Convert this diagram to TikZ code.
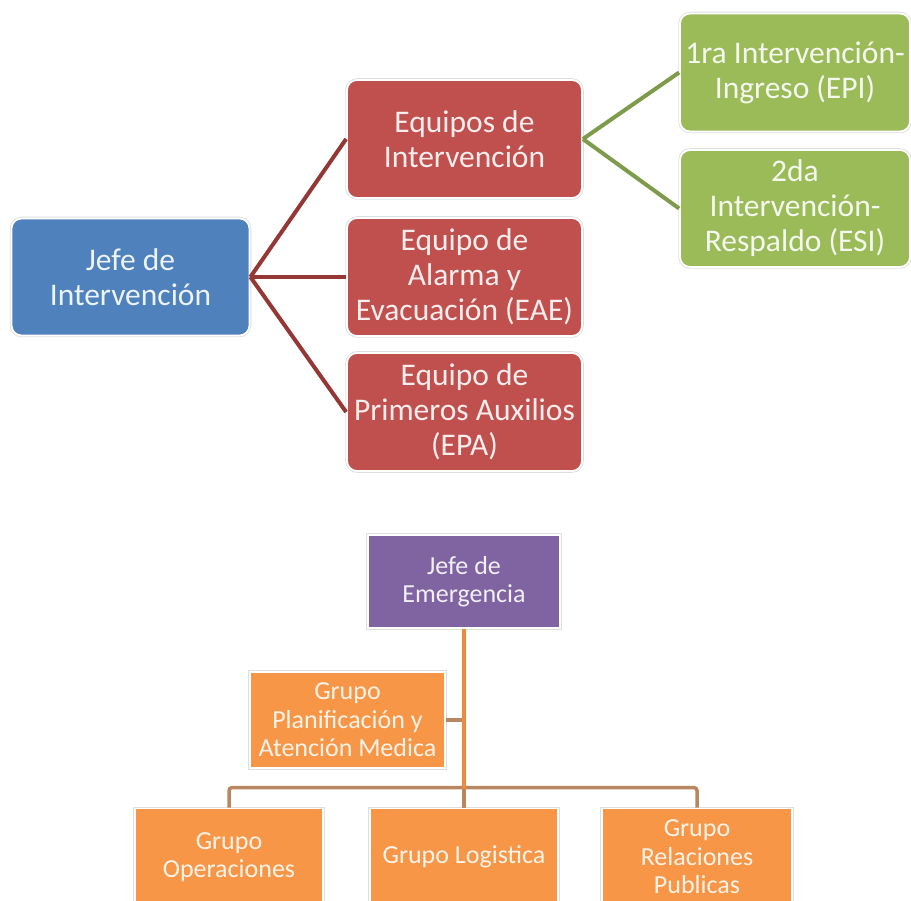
\documentclass[tikz,border=0pt]{standalone}
\usepackage{fontspec}
\setmainfont{Carlito}
\definecolor{jefeblue}{HTML}{4F81BD}
\definecolor{teamred}{HTML}{C0504D}
\definecolor{entrygreen}{HTML}{9BBB59}
\definecolor{emergpurple}{HTML}{8064A2}
\definecolor{grouporange}{HTML}{F79646}
\definecolor{redlink}{HTML}{953735}
\definecolor{greenlink}{HTML}{7E9B4B}
\definecolor{orangelink}{HTML}{EE8A3E}
\definecolor{buslink}{HTML}{B8875F}

\begin{document}
\begin{tikzpicture}[x=1pt, y=-1pt,
	card/.style={preaction={draw=black!13, line width=3.5pt}, draw=white, line width=1.8pt,
		text=white, align=center, inner sep=0pt},
	topcard/.style={card, rounded corners=10pt, font=\fontsize{31.5}{35}\selectfont},
	lowcard/.style={card, font=\fontsize{26}{28.5}\selectfont},
	redlink/.style={draw=redlink, line width=4pt},
	greenlink/.style={draw=greenlink, line width=4pt},
	buslink/.style={draw=buslink, line width=3.5pt, rounded corners=3pt}]
	\clip (0,0) rectangle (911,901);
	% brigada de intervencion
	\node[topcard, fill=jefeblue, text=white!90!jefeblue, minimum width=238pt, minimum height=117pt] (jefe) at (130.5, 277) {Jefe de\\Intervención};
	\node[topcard, fill=teamred, text=white!90!teamred, minimum width=235pt, minimum height=118pt] (equipos) at (464.5, 139) {Equipos de\\Intervención};
	\node[topcard, fill=teamred, text=white!90!teamred, minimum width=235pt, minimum height=118pt] (alarma) at (464.5, 277) {Equipo de\\Alarma y\\Evacuación (EAE)};
	\node[topcard, fill=teamred, text=white!90!teamred, minimum width=235pt, minimum height=118pt] (auxilios) at (464.5, 412) {Equipo de\\Primeros Auxilios\\(EPA)};
	\node[topcard, fill=entrygreen, text=white!90!entrygreen, minimum width=230pt, minimum height=118pt] (epi) at (795, 72.5) {1ra Intervención-\\Ingreso (EPI)};
	\node[topcard, fill=entrygreen, text=white!90!entrygreen, minimum width=230pt, minimum height=117pt] (esi) at (795, 208.5) {2da\\Intervención-\\Respaldo (ESI)};
	\draw[redlink] (jefe.east) -- (equipos.west);
	\draw[redlink] (jefe.east) -- (alarma.west);
	\draw[redlink] (jefe.east) -- (auxilios.west);
	\draw[greenlink] (equipos.east) -- (epi.west);
	\draw[greenlink] (equipos.east) -- (esi.west);

	% brigada de emergencia
	\node[lowcard, fill=emergpurple, text=white!90!emergpurple, minimum width=192pt, minimum height=93pt] (emerg) at (464, 581.5) {Jefe de\\Emergencia};
	\node[lowcard, fill=grouporange, text=white!88!grouporange, minimum width=195pt, minimum height=96pt] (planif) at (347.5, 720) {Grupo\\Planificación y\\Atención Medica};
	\node[lowcard, fill=grouporange, text=white!88!grouporange, minimum width=188pt, minimum height=97pt] (oper) at (229, 857) {Grupo\\Operaciones};
	\node[lowcard, fill=grouporange, text=white!88!grouporange, minimum width=188pt, minimum height=97pt] (logist) at (464, 857) {Grupo Logistica};
	\node[lowcard, fill=grouporange, text=white!88!grouporange, minimum width=190pt, minimum height=97pt] (relac) at (697, 857) {Grupo\\Relaciones\\Publicas};
	\draw[buslink] (oper.north) -- ++(0,-20) -| (relac.north);
	\draw[buslink] (logist.north) -- ++(0,-20);
	\draw[buslink] (planif.east) -- (planif.east -| emerg.south);
	\draw[draw=orangelink, line width=3.5pt] (emerg.south) -- ++(0,160);
\end{tikzpicture}
\end{document}
